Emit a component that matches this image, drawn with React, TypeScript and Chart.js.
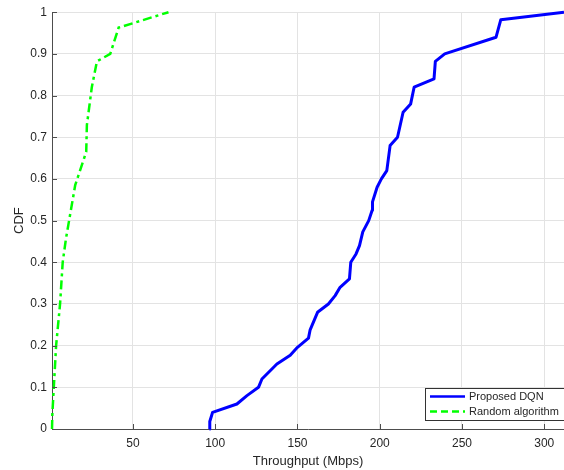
import React, { useEffect, useRef } from "react";
import { Chart, registerables } from "chart.js";

Chart.register(...registerables);

const dqnLabel = "Proposed DQN";
const dqnX = [96.5, 96.7, 98.4, 113.2, 119.3, 126.3, 128.4, 137.5, 145.6, 150, 156.7, 157.7, 162.2, 168.8, 172.9, 175.9, 181.6, 182.4, 185.6, 187.7, 189.7, 193.3, 195.4, 195.6, 198.4, 201, 204.3, 206.3, 210.8, 214.2, 218.8, 220.9, 233, 233.8, 239.5, 270.7, 273.6, 312];
const dqnY = [0, 0.018, 0.04, 0.06, 0.08, 0.1, 0.12, 0.156, 0.177, 0.196, 0.218, 0.238, 0.28, 0.3, 0.32, 0.34, 0.36, 0.4, 0.42, 0.44, 0.473, 0.5, 0.525, 0.545, 0.58, 0.6, 0.62, 0.68, 0.7, 0.76, 0.78, 0.82, 0.84, 0.882, 0.9, 0.94, 0.982, 1];

const randLabel = "Random algorithm";
const randX = [0.8, 1.0, 1.9, 3.3, 5.7, 7.3, 9.3, 14.9, 21.6, 22, 25, 28.1, 36.2, 41.3, 71.6];
const randY = [0, 0.035, 0.1, 0.2, 0.3, 0.4, 0.457, 0.585, 0.665, 0.729, 0.82, 0.882, 0.9, 0.963, 1];

const xTicks = [50, 100, 150, 200, 250, 300];
const yTicks = [0, 0.1, 0.2, 0.3, 0.4, 0.5, 0.6, 0.7, 0.8, 0.9, 1];
const xMin = 0.8;
const xMax = 312;
const xTitle = "Throughput (Mbps)";
const yTitle = "CDF";

const FONT = "'Liberation Sans', Arial, sans-serif";
const TEXT = "#262626";
const AXIS = "#4d4d4d";
const GRID = "#e3e3e3";
const BLUE = "#0000ff";
const GREEN = "#00ff00";
const GREEN_DASH = [9, 4, 3, 4];

const extrasPlugin = {
  id: "extras",
  afterDatasetsDraw(chart: any) {
    const { ctx, chartArea, scales } = chart;
    const { left, right, bottom } = chartArea;
    ctx.save();
    // inward ticks
    ctx.strokeStyle = AXIS;
    ctx.lineWidth = 1;
    ctx.beginPath();
    yTicks.forEach((v) => {
      const y = Math.round(scales.y.getPixelForValue(v)) + 0.5;
      ctx.moveTo(left, y);
      ctx.lineTo(left + 5, y);
    });
    xTicks.forEach((v) => {
      const x = Math.round(scales.x.getPixelForValue(v)) + 0.5;
      ctx.moveTo(x, bottom);
      ctx.lineTo(x, bottom - 5);
    });
    ctx.stroke();

    // legend
    const w = 139;
    const h = 32;
    const lx = right - w;
    const ly = bottom - 9 - h;
    ctx.fillStyle = "#ffffff";
    ctx.fillRect(lx, ly, w, h);
    ctx.strokeStyle = "#333333";
    ctx.lineWidth = 1;
    ctx.strokeRect(Math.round(lx) + 0.5, Math.round(ly) + 0.5, w, h);
    const rows = [
      { label: dqnLabel, color: BLUE, dash: [] as number[], y: ly + 8.5 },
      { label: randLabel, color: GREEN, dash: [7, 4], y: ly + 23.5 },
    ];
    ctx.font = `11px ${FONT}`;
    ctx.textBaseline = "middle";
    ctx.textAlign = "left";
    rows.forEach((r) => {
      ctx.strokeStyle = r.color;
      ctx.lineWidth = 2.5;
      ctx.setLineDash(r.dash);
      ctx.beginPath();
      ctx.moveTo(lx + 5, r.y);
      ctx.lineTo(lx + 40, r.y);
      ctx.stroke();
      ctx.setLineDash([]);
      ctx.fillStyle = TEXT;
      ctx.fillText(r.label, lx + 44, r.y);
    });
    ctx.restore();
  },
};

export default function App() {
  const ref = useRef<HTMLCanvasElement | null>(null);
  useEffect(() => {
    if (!ref.current) return;
    const chart = new Chart(ref.current, {
      type: "line",
      data: {
        datasets: [
          {
            label: dqnLabel,
            data: dqnX.map((x, i) => ({ x, y: dqnY[i] })),
            borderColor: BLUE,
            backgroundColor: BLUE,
            borderWidth: 3,
            pointRadius: 0,
            tension: 0,
            borderJoinStyle: "round",
          },
          {
            label: randLabel,
            data: randX.map((x, i) => ({ x, y: randY[i] })),
            borderColor: GREEN,
            backgroundColor: GREEN,
            borderWidth: 2.5,
            borderDash: GREEN_DASH,
            pointRadius: 0,
            tension: 0,
          },
        ],
      },
      options: {
        animation: false,
        responsive: false,
        maintainAspectRatio: false,
        clip: false as any,
        layout: { padding: { top: 12, right: 0, bottom: 0, left: 0 } },
        plugins: {
          legend: { display: false },
          tooltip: { enabled: false },
        },
        scales: {
          x: {
            type: "linear",
            min: xMin,
            max: xMax,
            afterBuildTicks: (axis: any) => {
              axis.ticks = xTicks.map((v) => ({ value: v }));
            },
            afterFit: (axis: any) => {
              axis.height = 41;
            },
            grid: { color: GRID, drawTicks: false, lineWidth: 1 },
            border: { display: true, color: AXIS, width: 1 },
            ticks: {
              color: TEXT,
              font: { family: FONT, size: 12 },
              padding: 7,
              maxRotation: 0,
              autoSkip: false,
            },
            title: {
              display: true,
              text: xTitle,
              color: TEXT,
              font: { family: FONT, size: 13 },
              padding: { top: 2, bottom: 1 },
            },
          },
          y: {
            type: "linear",
            min: 0,
            max: 1,
            afterBuildTicks: (axis: any) => {
              axis.ticks = yTicks.map((v) => ({ value: v }));
            },
            afterFit: (axis: any) => {
              axis.width = 52;
            },
            grid: { color: GRID, drawTicks: false, lineWidth: 1 },
            border: { display: true, color: AXIS, width: 1 },
            ticks: {
              color: TEXT,
              font: { family: FONT, size: 12 },
              padding: 5,
              autoSkip: false,
              callback: (v: any) => String(Number(Number(v).toFixed(1))),
            },
            title: {
              display: true,
              text: yTitle,
              color: TEXT,
              font: { family: FONT, size: 13 },
              padding: { top: 12, bottom: 2 },
            },
          },
        },
      },
      plugins: [extrasPlugin],
    } as any);
    return () => chart.destroy();
  }, []);

  return (
    <div style={{ position: "absolute", left: 0, top: 0, width: 564, height: 470, background: "#fff" }}>
      <canvas ref={ref} width={564} height={470} style={{ width: 564, height: 470, display: "block" }} />
    </div>
  );
}
